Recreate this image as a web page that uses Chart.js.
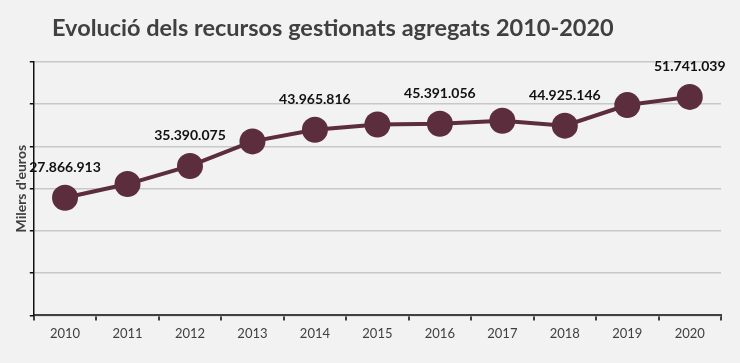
<!DOCTYPE html>
<html>
<head>
<meta charset="utf-8">
<script src="https://cdn.jsdelivr.net/npm/chart.js@4"></script>
<style>
  html, body { margin: 0; padding: 0; background: #f2f2f2; }
  #wrap { position: relative; width: 740px; height: 363px; }
  #title {
    position: absolute; left: 52px; top: 13px;
    font: bold 23.5px Lato, sans-serif; color: #404040; white-space: nowrap;
  }
</style>
</head>
<body>
<div id="wrap">
  <div id="title">Evolució dels recursos gestionats agregats 2010-2020</div>
  <canvas id="chartCanvas" width="740" height="363"></canvas>
</div>
<script>
const years = ['2010', '2011', '2012', '2013', '2014', '2015', '2016', '2017', '2018', '2019', '2020'];
const recursos = [27866913, 31100000, 35390075, 41200000, 43965816, 45200000, 45391056, 46100000, 44925146, 49800000, 51741039];
const labelled = [0, 2, 4, 6, 8, 10];

const colorLine = '#5c2d3c';

function fmt(v) {
    return String(v).replace(/\B(?=(\d{3})+(?!\d))/g, '.');
}

const pointLabels = {
    id: 'pointLabels',
    afterDatasetsDraw(chart) {
        const ctx = chart.ctx;
        const meta = chart.getDatasetMeta(0);
        ctx.save();
        ctx.font = 'bold 14px Lato, sans-serif';
        ctx.fillStyle = '#111';
        ctx.textAlign = 'center';
        ctx.textBaseline = 'middle';
        labelled.forEach(i => {
            const p = meta.data[i];
            ctx.fillText(fmt(recursos[i]), p.x, p.y - 30);
        });
        ctx.restore();
    }
};

const ctx = document.getElementById('chartCanvas').getContext('2d');
new Chart(ctx, {
    type: 'line',
    data: {
        labels: years,
        datasets: [{
            data: recursos,
            borderColor: colorLine,
            backgroundColor: colorLine,
            borderWidth: 4,
            pointRadius: 13,
            pointHoverRadius: 13,
            pointBackgroundColor: colorLine,
            pointBorderWidth: 0,
            tension: 0
        }]
    },
    options: {
        responsive: false,
        animation: false,
        layout: { padding: { top: 62, right: 19, bottom: 15, left: 9 } },
        plugins: {
            legend: { display: false },
            tooltip: { enabled: false }
        },
        scales: {
            x: {
                offset: true,
                grid: { drawOnChartArea: false, offset: true, tickLength: 5, color: '#404040', lineWidth: 2 },
                border: { color: '#404040', width: 2 },
                ticks: { color: '#404040', font: { family: 'Lato', size: 13 }, padding: 6 }
            },
            y: {
                min: 0,
                max: 60000000,
                ticks: { display: false, stepSize: 10000000 },
                grid: { color: '#c8c8c8', lineWidth: 1.5, tickLength: 4, tickColor: '#111' },
                border: { color: '#111', width: 1.5 },
                title: {
                    display: true,
                    text: "Milers d'euros",
                    color: '#404040',
                    font: { family: 'Lato', size: 14, weight: 'bold' },
                    padding: { top: 4, bottom: 0 }
                }
            }
        }
    },
    plugins: [pointLabels]
});
</script>
</body>
</html>
